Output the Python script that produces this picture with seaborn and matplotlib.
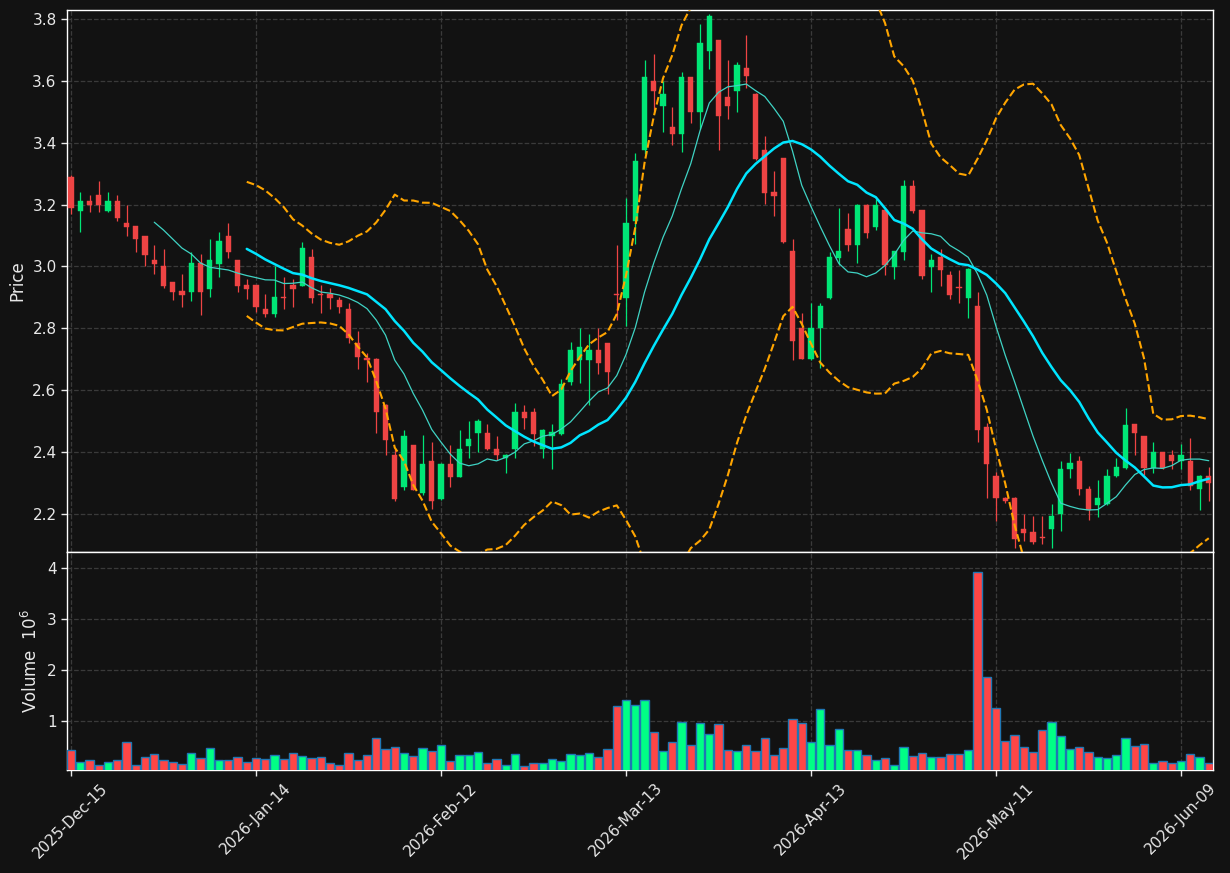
import numpy as np
import pandas as pd
import matplotlib
matplotlib.use("Agg")
import matplotlib.pyplot as plt
import seaborn as sns

# ---------------- data ----------------
opens = [3.29, 3.18, 3.21, 3.23, 3.18, 3.21, 3.14, 3.13, 3.10, 3.02,
         3.00, 2.95, 2.92, 2.918, 3.01, 2.928, 3.008, 3.10, 3.02, 2.94,
         2.94, 2.862, 2.847, 2.901, 2.94, 2.936, 3.03, 2.911, 2.911, 2.891,
         2.862, 2.751, 2.701, 2.70, 2.553, 2.391, 2.286, 2.424, 2.268, 2.372,
         2.249, 2.362, 2.321, 2.421, 2.461, 2.462, 2.41, 2.381, 2.41, 2.53,
         2.53, 2.409, 2.452, 2.46, 2.628, 2.697, 2.697, 2.73, 2.751, 2.911,
         2.899, 3.147, 3.377, 3.598, 3.518, 3.45, 3.428, 3.611, 3.499, 3.696,
         3.731, 3.548, 3.567, 3.64, 3.559, 3.378, 3.24, 3.35, 3.049, 2.80,
         2.70, 2.80, 2.899, 3.028, 3.12, 3.07, 3.20, 3.128, 3.181, 2.999,
         3.047, 3.259, 3.181, 2.999, 3.031, 2.972, 2.931, 2.899, 2.872, 2.481,
         2.324, 2.253, 2.253, 2.152, 2.142, 2.124, 2.15, 2.199, 2.344, 2.372,
         2.282, 2.23, 2.232, 2.322, 2.35, 2.491, 2.452, 2.35, 2.40, 2.391,
         2.371, 2.372, 2.28, 2.324]
highs = [3.295, 3.24, 3.23, 3.275, 3.24, 3.23, 3.20, 3.13, 3.10, 3.07,
         3.056, 2.95, 2.977, 3.047, 3.04, 3.09, 3.11, 3.14, 3.02, 2.96,
         2.94, 2.91, 3.00, 2.965, 2.96, 3.078, 3.058, 2.939, 2.93, 2.90,
         2.881, 2.79, 2.721, 2.704, 2.555, 2.41, 2.472, 2.424, 2.454, 2.432,
         2.365, 2.424, 2.472, 2.50, 2.508, 2.49, 2.452, 2.395, 2.559, 2.551,
         2.541, 2.476, 2.49, 2.635, 2.757, 2.80, 2.781, 2.80, 2.751, 3.069,
         3.221, 3.368, 3.666, 3.687, 3.599, 3.515, 3.629, 3.611, 3.784, 3.815,
         3.731, 3.668, 3.661, 3.749, 3.56, 3.423, 3.31, 3.352, 3.09, 2.848,
         2.881, 2.881, 3.047, 3.19, 3.174, 3.201, 3.201, 3.219, 3.181, 3.05,
         3.278, 3.278, 3.181, 3.039, 3.056, 2.985, 2.99, 2.995, 2.916, 2.495,
         2.334, 2.255, 2.255, 2.20, 2.192, 2.192, 2.232, 2.372, 2.397, 2.386,
         2.289, 2.311, 2.345, 2.381, 2.542, 2.491, 2.452, 2.432, 2.40, 2.407,
         2.426, 2.445, 2.326, 2.352]
lows = [3.17, 3.11, 3.175, 3.175, 3.175, 3.148, 3.10, 3.047, 3.00, 2.975,
        2.93, 2.892, 2.87, 2.889, 2.842, 2.90, 2.965, 3.026, 2.918, 2.894,
        2.854, 2.837, 2.837, 2.861, 2.87, 2.936, 2.881, 2.848, 2.861, 2.85,
        2.751, 2.67, 2.628, 2.461, 2.389, 2.241, 2.278, 2.278, 2.26, 2.216,
        2.244, 2.287, 2.32, 2.381, 2.40, 2.407, 2.375, 2.332, 2.381, 2.473,
        2.421, 2.381, 2.345, 2.455, 2.618, 2.624, 2.552, 2.652, 2.587, 2.827,
        2.808, 3.074, 3.365, 3.504, 3.434, 3.394, 3.371, 3.465, 3.445, 3.639,
        3.377, 3.478, 3.499, 3.577, 3.345, 3.203, 3.163, 3.077, 2.698, 2.70,
        2.698, 2.671, 2.895, 3.004, 3.049, 3.01, 3.093, 3.119, 2.974, 2.961,
        3.02, 3.173, 2.961, 2.918, 2.937, 2.894, 2.881, 2.835, 2.432, 2.251,
        2.178, 2.235, 2.09, 2.114, 2.103, 2.103, 2.09, 2.144, 2.316, 2.26,
        2.181, 2.191, 2.23, 2.32, 2.345, 2.391, 2.327, 2.332, 2.345, 2.345,
        2.345, 2.278, 2.214, 2.243]
closes = [3.19, 3.21, 3.20, 3.20, 3.21, 3.157, 3.128, 3.09, 3.037, 3.008,
          2.937, 2.918, 2.908, 3.011, 2.918, 3.02, 3.082, 3.047, 2.937, 2.928,
          2.87, 2.847, 2.90, 2.899, 2.927, 3.059, 2.898, 2.909, 2.898, 2.869,
          2.77, 2.708, 2.699, 2.53, 2.44, 2.249, 2.452, 2.278, 2.362, 2.241,
          2.362, 2.321, 2.41, 2.443, 2.501, 2.409, 2.389, 2.391, 2.53, 2.509,
          2.46, 2.472, 2.465, 2.62, 2.73, 2.739, 2.73, 2.689, 2.659, 2.909,
          3.14, 3.34, 3.611, 3.567, 3.558, 3.428, 3.611, 3.499, 3.721, 3.808,
          3.486, 3.518, 3.65, 3.617, 3.347, 3.237, 3.228, 3.079, 2.759, 2.70,
          2.80, 2.872, 3.03, 3.049, 3.07, 3.20, 3.108, 3.20, 3.004, 3.049,
          3.259, 3.178, 2.969, 3.02, 2.988, 2.908, 2.929, 2.991, 2.47, 2.36,
          2.25, 2.241, 2.119, 2.139, 2.11, 2.122, 2.192, 2.345, 2.366, 2.28,
          2.214, 2.253, 2.324, 2.352, 2.488, 2.461, 2.35, 2.40, 2.35, 2.37,
          2.389, 2.289, 2.324, 2.30]
volumes_m = [0.428, 0.191, 0.230, 0.132, 0.191, 0.230, 0.586, 0.132, 0.290, 0.349,
             0.230, 0.191, 0.151, 0.369, 0.270, 0.467, 0.230, 0.230, 0.290, 0.191,
             0.270, 0.250, 0.329, 0.250, 0.369, 0.309, 0.270, 0.290, 0.171, 0.132,
             0.369, 0.230, 0.329, 0.665, 0.448, 0.487, 0.369, 0.309, 0.467, 0.408,
             0.527, 0.211, 0.329, 0.329, 0.388, 0.171, 0.250, 0.132, 0.349, 0.112,
             0.171, 0.171, 0.250, 0.211, 0.349, 0.329, 0.369, 0.290, 0.448, 1.296,
             1.414, 1.316, 1.414, 0.783, 0.408, 0.586, 0.980, 0.526, 0.961, 0.743,
             0.941, 0.428, 0.408, 0.526, 0.408, 0.665, 0.329, 0.467, 1.039, 0.961,
             0.586, 1.237, 0.526, 0.842, 0.428, 0.428, 0.329, 0.230, 0.270, 0.132,
             0.487, 0.309, 0.369, 0.290, 0.290, 0.349, 0.349, 0.428, 3.921, 1.868,
             1.256, 0.605, 0.724, 0.487, 0.388, 0.822, 0.980, 0.704, 0.448, 0.487,
             0.388, 0.290, 0.270, 0.329, 0.665, 0.507, 0.546, 0.171, 0.211, 0.171,
             0.211, 0.349, 0.290, 0.171]
holidays = ["2025-12-25", "2026-01-01", "2026-01-19", "2026-02-16",
            "2026-04-03", "2026-05-25"]
start_date = "2025-12-15"
tick_step = 20

# ---------------- styling ----------------
BG = "#121212"
UP_C, DN_C = "#00e676", "#ee4444"
UP_V, DN_V = "#00ff85", "#ff4646"
sns.set_theme(style="dark", rc={
    "figure.facecolor": BG, "axes.facecolor": BG, "savefig.facecolor": BG,
    "axes.edgecolor": "white", "axes.linewidth": 1.0,
    "axes.labelcolor": "#e8e8e8", "text.color": "#e8e8e8",
    "xtick.color": "#e8e8e8", "ytick.color": "#e8e8e8",
    "xtick.bottom": True, "ytick.left": True,
    "xtick.major.size": 4, "ytick.major.size": 4,
    "xtick.major.width": 1, "ytick.major.width": 1,
    "axes.grid": True, "grid.color": "#3a3a3a", "grid.linestyle": "--",
    "grid.linewidth": 0.9,
})
plt.rcParams["font.family"] = ["DejaVu Sans"]
plt.rcParams["font.size"] = 10.5

df = pd.DataFrame({"Open": opens, "High": highs, "Low": lows,
                   "Close": closes, "Volume": volumes_m})
n = len(df)
df["idx"] = np.arange(n)
dates = pd.bdate_range(start_date, periods=n, freq="C", holidays=holidays)
df["ma10"] = df["Close"].rolling(10).mean()
df["ma20"] = df["Close"].rolling(20).mean()
sd = df["Close"].rolling(20).std(ddof=0)
df["bb_up"] = df["ma20"] + 2 * sd
df["bb_lo"] = df["ma20"] - 2 * sd
up = df["Close"] >= df["Open"]

fig = plt.figure(figsize=(12.3, 8.73), dpi=100)
ax1 = fig.add_axes([0.0545, 0.3677, 0.9317, 0.62085])
ax2 = fig.add_axes([0.0545, 0.11798, 0.9317, 0.24972], sharex=ax1)

# candles
ccol = np.where(up, UP_C, DN_C)
ax1.vlines(df["idx"], df["Low"], df["High"], colors=ccol, linewidth=0.9, zorder=3)
body_lo = np.minimum(df["Open"], df["Close"])
body_h = np.maximum(np.abs(df["Close"] - df["Open"]), 0.0035)
ax1.bar(df["idx"], body_h, bottom=body_lo, width=0.56, color=ccol,
        edgecolor=ccol, linewidth=0.3, zorder=4)

# indicator lines
sns.lineplot(data=df, x="idx", y="bb_up", ax=ax1, color="#ffa500",
             linestyle="--", linewidth=1.5, estimator=None, zorder=5)
sns.lineplot(data=df, x="idx", y="bb_lo", ax=ax1, color="#ffa500",
             linestyle="--", linewidth=1.5, estimator=None, zorder=5)
sns.lineplot(data=df, x="idx", y="ma10", ax=ax1, color="#3fd3c4",
             linewidth=0.9, estimator=None, zorder=6)
sns.lineplot(data=df, x="idx", y="ma20", ax=ax1, color="#00e5ff",
             linewidth=1.8, estimator=None, zorder=6)

# volume
vcol = np.where(up, UP_V, DN_V)
ax2.bar(df["idx"], df["Volume"], width=0.9, color=vcol,
        edgecolor="#1f77b4", linewidth=1.0, zorder=3)

ticks = list(range(0, n, tick_step))
ax1.set_xlim(-0.43, 123.46)
ax1.set_ylim(2.077, 3.829)
ax1.set_yticks([2.2, 2.4, 2.6, 2.8, 3.0, 3.2, 3.4, 3.6, 3.8])
ax1.set_xticks(ticks)
ax1.tick_params(axis="x", length=0, labelbottom=False)
ax1.set_ylabel("Price")
ax1.set_xlabel("")

ax2.set_ylim(0.04, 4.32)
ax2.set_yticks([1, 2, 3, 4])
ax2.set_xticks(ticks)
ax2.set_xticklabels([dates[i].strftime("%Y-%b-%d") for i in ticks],
                    rotation=45, ha="center")
ax2.set_ylabel(r"Volume  $10^{6}$")
ax2.set_xlabel("")

for ax in (ax1, ax2):
    for s in ax.spines.values():
        s.set_color("white")
        s.set_linewidth(1.0)
    ax.grid(True, color="#3a3a3a", linestyle="--", linewidth=0.9)
    ax.set_axisbelow(True)

fig.savefig("out.png", dpi=100)
